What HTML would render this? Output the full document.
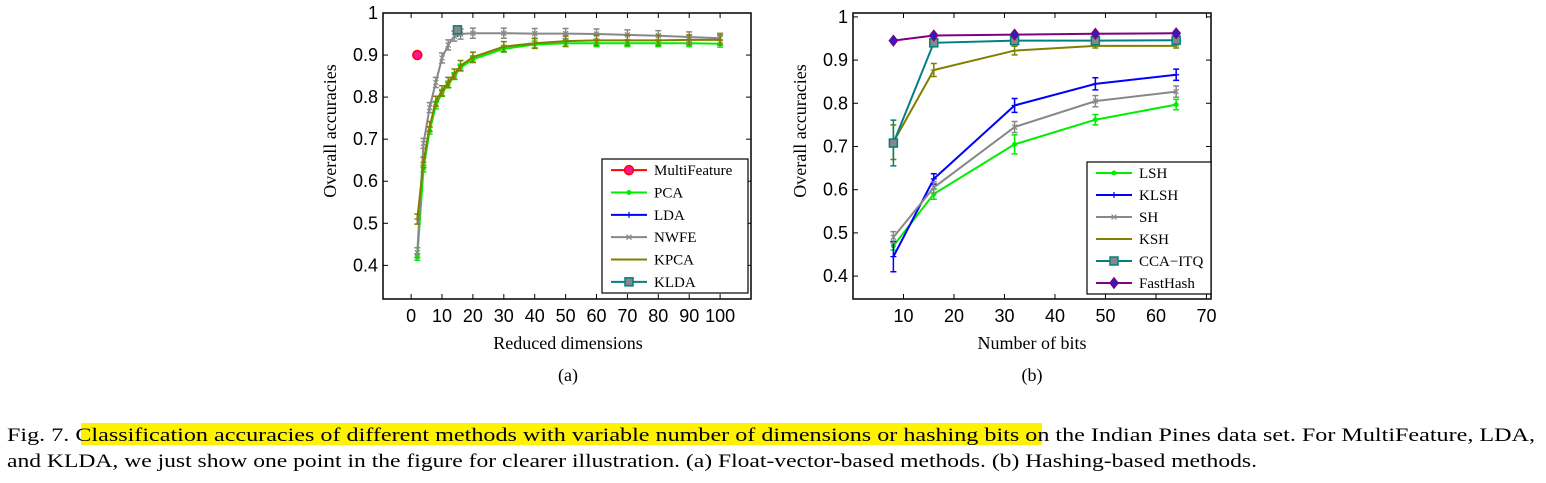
<!DOCTYPE html>
<html><head><meta charset="utf-8"><style>
html,body{margin:0;padding:0;background:#fff;}
svg{display:block;}
</style></head><body>
<svg id="fig" width="1546" height="483" xmlns="http://www.w3.org/2000/svg">
<rect x="81" y="423" width="961" height="22" fill="#fff200"/>
<text x="7" y="441" font-family="Liberation Serif, serif" font-size="19" textLength="1528" lengthAdjust="spacingAndGlyphs">Fig. 7.  Classification accuracies of different methods with variable number of dimensions or hashing bits on the Indian Pines data set. For MultiFeature, LDA,</text>
<text x="7" y="467" font-family="Liberation Serif, serif" font-size="19" textLength="1250" lengthAdjust="spacingAndGlyphs">and KLDA, we just show one point in the figure for clearer illustration. (a) Float-vector-based methods. (b) Hashing-based methods.</text>
<g id="chartA"></g>
<g id="chartB"></g>
</svg>
<script>
// ---- Chart A data ----
const dimsA = [2,4,6,8,10,12,14,16,20,30,40,50,60,70,80,90,100];
const pcaVals = [0.42,0.63,0.72,0.78,0.81,0.83,0.85,0.87,0.89,0.915,0.925,0.928,0.928,0.928,0.928,0.928,0.927];
const kpcaVals = [0.51,0.645,0.73,0.79,0.815,0.835,0.855,0.875,0.895,0.92,0.928,0.933,0.935,0.935,0.935,0.936,0.936];
const nwfeVals = [0.43,0.69,0.775,0.835,0.893,0.924,0.945,0.95,0.952,0.952,0.951,0.951,0.95,0.948,0.946,0.943,0.94];
const multiX = [2], multiVals = [0.90];
const ldaX = [15], ldaVals = [0.95];
const kldaX = [15], kldaVals = [0.96];
const xTicksA = [0,10,20,30,40,50,60,70,80,90,100];
const yTicksA = [0.4,0.5,0.6,0.7,0.8,0.9,1];
// ---- Chart B data ----
const bits = [8,16,32,48,64];
const lshVals = [0.47,0.59,0.705,0.762,0.797];
const klshVals = [0.445,0.625,0.795,0.845,0.866];
const shVals = [0.49,0.605,0.745,0.805,0.827];
const kshVals = [0.71,0.877,0.922,0.933,0.933];
const ccaVals = [0.708,0.94,0.945,0.945,0.946];
const fastVals = [0.945,0.957,0.959,0.961,0.962];
const xTicksB = [10,20,30,40,50,60,70];
const yTicksB = [0.4,0.5,0.6,0.7,0.8,0.9,1];

const NS="http://www.w3.org/2000/svg";
function mk(parent,tag,attrs,text){const e=document.createElementNS(NS,tag);for(const k in attrs)e.setAttribute(k,attrs[k]);if(text!==undefined)e.textContent=text;parent.appendChild(e);return e;}

function marker(g,type,x,y,color){
  let m;
  if(type==='circle'){m=mk(g,'circle',{cx:x,cy:y,r:4.5,fill:'#ff1493',stroke:color,'stroke-width':1.5});}
  else if(type==='dot'){m=mk(g,'circle',{cx:x,cy:y,r:2.5,fill:color});}
  else if(type==='square'){m=mk(g,'rect',{x:x-4,y:y-4,width:8,height:8,fill:'#888',stroke:color,'stroke-width':1.5});}
  else if(type==='diamond'){m=mk(g,'polygon',{points:`${x},${y-5} ${x+4},${y} ${x},${y+5} ${x-4},${y}`,fill:'#2222cc',stroke:color,'stroke-width':1.5});}
  else if(type==='x'){m=mk(g,'path',{d:`M${x-2.5},${y-2.5}L${x+2.5},${y+2.5}M${x-2.5},${y+2.5}L${x+2.5},${y-2.5}`,stroke:color,'stroke-width':1.2});}
  else if(type==='plus'){m=mk(g,'path',{d:`M${x-3},${y}L${x+3},${y}M${x},${y-3}L${x},${y+3}`,stroke:color,'stroke-width':1.2});}
  else {m=mk(g,'path',{d:`M${x-3},${y}L${x+3},${y}`,stroke:color,'stroke-width':1.2});}
  
  
}

function drawChart(root,cfg){
  const {L,R,T,B,xmin,xmax,ymin,ymax} = cfg;
  const sx=v=>L+(v-xmin)/(xmax-xmin)*(R-L);
  const sy=v=>B-(v-ymin)/(ymax-ymin)*(B-T);
  const box=mk(root,'rect',{x:L,y:T,width:R-L,height:B-T,fill:'#fff',stroke:'#000','stroke-width':1.5});
  
  
  cfg.xticks.forEach(t=>{
    const x=sx(t);
    mk(root,'line',{x1:x,y1:B,x2:x,y2:B-5,stroke:'#000'});
    mk(root,'line',{x1:x,y1:T,x2:x,y2:T+5,stroke:'#000'});
    const tl=mk(root,'text',{x:x,y:B+23,'text-anchor':'middle','font-family':'Liberation Sans, sans-serif','font-size':18},String(t));
    
    
  });
  cfg.yticks.forEach(t=>{
    const y=sy(t);
    mk(root,'line',{x1:L,y1:y,x2:L+5,y2:y,stroke:'#000'});
    mk(root,'line',{x1:R,y1:y,x2:R-5,y2:y,stroke:'#000'});
    const tl=mk(root,'text',{x:L-5,y:y+6,'text-anchor':'end','font-family':'Liberation Sans, sans-serif','font-size':18},String(t));
    
    
  });
  cfg.series.forEach(s=>{
    const g=mk(root,'g',{});
    
    
    const pts=s.x.map((v,i)=>[sx(v),sy(s.y[i])]);
    if(pts.length>1) mk(g,'polyline',{points:pts.map(p=>p.join(',')).join(' '),fill:'none',stroke:s.color,'stroke-width':2});
    pts.forEach((p,i)=>{
      if(s.err){const e=Array.isArray(s.err)?s.err[i]:s.err, y1=sy(s.y[i]+e), y2=sy(s.y[i]-e);
        mk(g,'path',{d:`M${p[0]},${y1}L${p[0]},${y2}M${p[0]-3},${y1}L${p[0]+3},${y1}M${p[0]-3},${y2}L${p[0]+3},${y2}`,stroke:s.color,'stroke-width':1.5});}
      marker(g,s.marker,p[0],p[1],s.color);
    });
  });
  const lg=cfg.legend;
  const lb=mk(root,'rect',{x:lg.x,y:lg.y,width:lg.w,height:lg.h,fill:'#fff',stroke:'#000','stroke-width':1.2});
  
  
  const step=lg.h/cfg.series.length;
  cfg.series.forEach((s,i)=>{
    const y=lg.y+step*(i+0.5);
    const g=mk(root,'g',{});
    
    
    mk(g,'line',{x1:lg.x+9,y1:y,x2:lg.x+45,y2:y,stroke:s.color,'stroke-width':2});
    marker(g,s.marker,lg.x+27,y,s.color);
    mk(g,'text',{x:lg.x+52,y:y+5,'font-family':'Liberation Serif, serif','font-size':15},s.name);
  });
  const xl=mk(root,'text',{x:cfg.xlabX,y:349,'text-anchor':'middle','font-family':'Liberation Serif, serif','font-size':18},cfg.xlabel);
  
  
  const yl=mk(root,'text',{x:0,y:0,'text-anchor':'middle','font-family':'Liberation Serif, serif','font-size':18,transform:`translate(${cfg.ylabX},${(T+B)/2-25}) rotate(-90)`},'Overall accuracies');
  
  
  const sub=mk(root,'text',{x:cfg.xlabX,y:381,'text-anchor':'middle','font-family':'Liberation Serif, serif','font-size':18},cfg.sub);
  
  
}

drawChart(document.getElementById('chartA'),{
  L:383,R:751,T:13,B:299,xmin:-9.1,xmax:110,ymin:0.32,ymax:1.0,
  xticks:xTicksA,yticks:yTicksA,xlabel:'Reduced dimensions',xlabX:568,ylabX:336,sub:'(a)',
  legend:{x:602,y:159,w:146,h:134},
  series:[
    {name:'MultiFeature',x:multiX,y:multiVals,color:'#ff0000',marker:'circle'},
    {name:'PCA',x:dimsA,y:pcaVals,color:'#00ee00',marker:'dot',err:0.008},
    {name:'LDA',x:ldaX,y:ldaVals,color:'#0000ff',marker:'plus'},
    {name:'NWFE',x:dimsA,y:nwfeVals,color:'#888888',marker:'x',err:0.012},
    {name:'KPCA',x:dimsA,y:kpcaVals,color:'#808000',marker:'dash',err:0.012},
    {name:'KLDA',x:kldaX,y:kldaVals,color:'#008080',marker:'square'}
  ]
});
drawChart(document.getElementById('chartB'),{
  L:853,R:1211,T:13,B:299,xmin:0,xmax:70.9,ymin:0.347,ymax:1.009,
  xticks:xTicksB,yticks:yTicksB,xlabel:'Number of bits',xlabX:1032,ylabX:806,sub:'(b)',
  legend:{x:1087,y:162,w:124,h:132},
  series:[
    {name:'LSH',x:bits,y:lshVals,color:'#00ee00',marker:'dot',err:[0.01,0.012,0.022,0.012,0.012]},
    {name:'KLSH',x:bits,y:klshVals,color:'#0000ff',marker:'plus',err:[0.035,0.012,0.016,0.014,0.013]},
    {name:'SH',x:bits,y:shVals,color:'#888888',marker:'x',err:0.013},
    {name:'KSH',x:bits,y:kshVals,color:'#808000',marker:'dash',err:[0.04,0.015,0.01,0.005,0.005]},
    {name:'CCA\u2212ITQ',x:bits,y:ccaVals,color:'#008080',marker:'square',err:[0.053,0.005,0.004,0.004,0.004]},
    {name:'FastHash',x:bits,y:fastVals,color:'#800080',marker:'diamond'}
  ]
});
</script>
</body></html>
